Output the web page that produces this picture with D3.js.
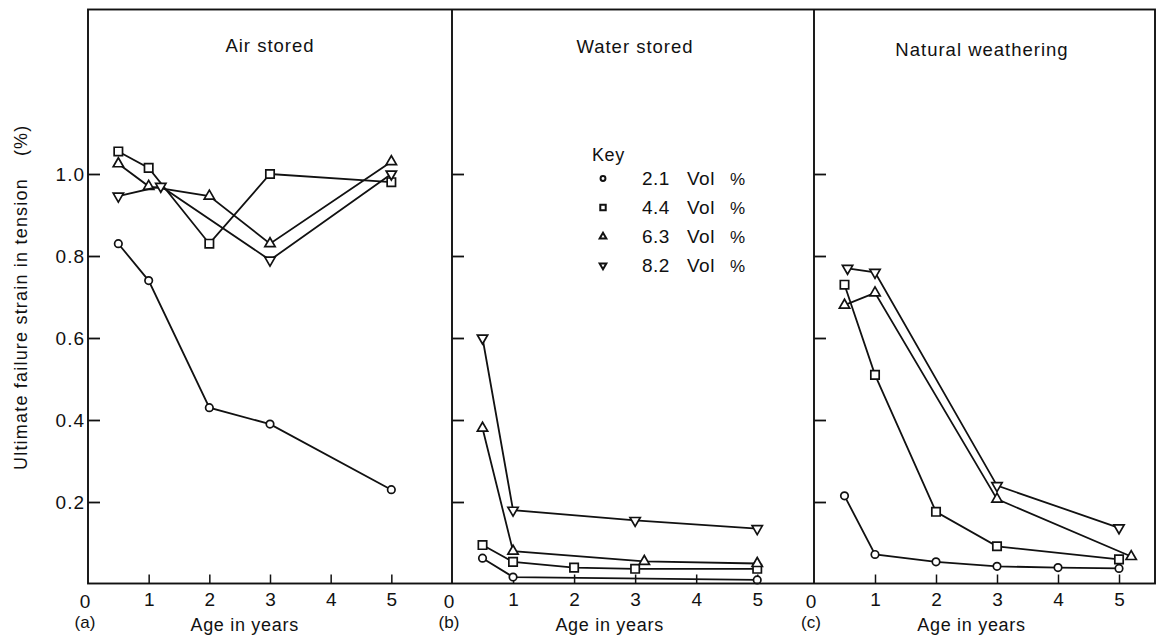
<!DOCTYPE html>
<html><head><meta charset="utf-8">
<script src="https://cdn.jsdelivr.net/npm/d3@7"></script>
<style>
body{margin:0;background:#fff}
svg{display:block}
text{font-family:"Liberation Sans",Arial,Helvetica,sans-serif;fill:#111}
</style>
</head><body>
<svg id="chart" width="1157" height="638"></svg>
<script>
// ---------- data ----------
const panelTitles = ["Air stored", "Water stored", "Natural weathering"];
const panelLetters = ["(a)", "(b)", "(c)"];
const seriesNames = ["2.1", "4.4", "6.3", "8.2"];
const seriesSymbols = ["circle", "square", "triangleUp", "triangleDown"];
const yTicks = [0.2, 0.4, 0.6, 0.8, 1.0];
const yTickLabels = ["0.2", "0.4", "0.6", "0.8", "1.0"];
const xTicks = [1, 2, 3, 4, 5];
const xTickLabels = ["1", "2", "3", "4", "5"];

// Air stored (a)
const airAges   = [[0.5, 1, 2, 3, 5], [0.5, 1, 2, 3, 5], [0.5, 1, 2, 3, 5], [0.5, 1.2, 3, 5]];
const airValues = [[0.83, 0.74, 0.43, 0.39, 0.23],
                   [1.055, 1.015, 0.83, 1.0, 0.98],
                   [1.025, 0.97, 0.946, 0.83, 1.03],
                   [0.946, 0.97, 0.79, 1.0]];
// Water stored (b)
const waterAges   = [[0.5, 1, 5], [0.5, 1, 2, 3, 5], [0.5, 1, 3.15, 5], [0.5, 1, 3, 5]];
const waterValues = [[0.063, 0.017, 0.01],
                     [0.095, 0.054, 0.04, 0.037, 0.037],
                     [0.38, 0.08, 0.055, 0.05],
                     [0.6, 0.18, 0.155, 0.135]];
// Natural weathering (c)
const naturalAges   = [[0.5, 1, 2, 3, 4, 5], [0.5, 1, 2, 3, 5], [0.5, 1, 3, 5.2], [0.55, 1, 3, 5]];
const naturalValues = [[0.215, 0.072, 0.054, 0.043, 0.04, 0.038],
                       [0.73, 0.51, 0.176, 0.092, 0.06],
                       [0.68, 0.71, 0.207, 0.067],
                       [0.77, 0.76, 0.24, 0.137]];

const panelAges = [airAges, waterAges, naturalAges];
const panelValues = [airValues, waterValues, naturalValues];

// ---------- layout ----------
const svg = d3.select("#chart");
const frameTop = 9.5, frameBottom = 583.5;
const panelX = [[88, 452], [452, 814], [814, 1155]];
const panelXMax = [6, 5.93, 5.59];

const y = d3.scaleLinear().domain([0, 1.4]).range([584, 10]);

function symbolPath(kind, big) {
  const s = big ? 1 : 0.65;
  if (kind === "circle") return d3.symbol(d3.symbolCircle, 44 * s * s)();
  if (kind === "square") return d3.symbol(d3.symbolSquare, 70 * s * s)();
  return d3.symbol(d3.symbolTriangle, 46 * s * s)();
}

panelTitles.forEach((title, p) => {
  const x = d3.scaleLinear().domain([0, panelXMax[p]]).range(panelX[p]);
  const g = svg.append("g");

  // y axis ticks (inward)
  const yAxis = d3.axisLeft(y).tickValues(yTicks).tickSizeInner(-12).tickSizeOuter(0).tickPadding(3)
    .tickFormat((d, i) => p === 0 ? yTickLabels[i] : "");
  const ya = g.append("g").attr("transform", `translate(${panelX[p][0]},0)`).call(yAxis);
  ya.select(".domain").remove();
  ya.selectAll("line").attr("stroke", "#111").attr("stroke-width", 1.8);
  ya.selectAll("text").style("font-family", '"Liberation Sans",Arial,sans-serif')
    .style("font-size", "19px").style("letter-spacing", "1px").attr("fill", "#111");

  // x axis ticks (inward)
  const xAxis = d3.axisBottom(x).tickValues(xTicks).tickSizeInner(-9).tickSizeOuter(0).tickPadding(10)
    .tickFormat((d, i) => xTickLabels[i]);
  const xa = g.append("g").attr("transform", `translate(0,${frameBottom})`).call(xAxis);
  xa.select(".domain").remove();
  xa.selectAll("line").attr("stroke", "#111").attr("stroke-width", 1.5);
  xa.selectAll("text").style("font-family", '"Liberation Sans",Arial,sans-serif')
    .style("font-size", "19px").attr("fill", "#111").attr("dy", "0.68em");

  // origin "0" and panel letter
  g.append("text").attr("x", x(0) - 3).attr("y", 608).attr("text-anchor", "middle")
    .style("font-size", "19px").text("0");
  g.append("text").attr("x", x(0) - 3).attr("y", 628).attr("text-anchor", "middle")
    .style("font-size", "17px").text(panelLetters[p]);
  g.append("text").attr("x", (x(0) + x(5)) / 2 + 5).attr("y", 631).attr("text-anchor", "middle")
    .style("font-size", "18px").style("letter-spacing", "0.7px").text("Age in years");

  // title
  const titleX = [270, 635, 982][p];
  const titleY = [52, 53, 56][p];
  g.append("text").attr("x", titleX).attr("y", titleY).attr("text-anchor", "middle")
    .style("font-size", "18.5px").style("letter-spacing", "1px").text(title);

  // series
  const line = d3.line().x(d => x(d[0])).y(d => y(d[1]));
  seriesNames.forEach((name, s) => {
    const pts = panelAges[p][s].map((a, i) => [a, panelValues[p][s][i]]);
    g.append("path").attr("d", line(pts)).attr("fill", "none")
      .attr("stroke", "#111").attr("stroke-width", 1.8);
    const kind = seriesSymbols[s];
    g.selectAll(null).data(pts).enter().append("path")
      .attr("d", symbolPath(kind, true))
      .attr("transform", d => `translate(${x(d[0])},${y(d[1])})` + (kind === "triangleDown" ? " rotate(180)" : ""))
      .attr("fill", "#fff").attr("stroke", "#111").attr("stroke-width", 1.7);
  });
});

// frame
const frame = svg.append("g").attr("fill", "none").attr("stroke", "#111").attr("stroke-width", 1.9);
frame.append("rect").attr("x", 88).attr("y", frameTop).attr("width", 1155 - 88).attr("height", frameBottom - frameTop);
frame.append("line").attr("x1", 452).attr("x2", 452).attr("y1", frameTop).attr("y2", frameBottom);
frame.append("line").attr("x1", 814).attr("x2", 814).attr("y1", frameTop).attr("y2", frameBottom);

// y label
svg.append("text").attr("transform", "translate(27,470) rotate(-90)")
  .style("font-size", "18px").style("letter-spacing", "1.2px")
  .text("Ultimate failure strain in tension")
  .append("tspan").attr("dx", 22).text("(%)");

// key
const key = svg.append("g");
key.append("text").attr("x", 592).attr("y", 161).style("font-size", "18px").style("letter-spacing", "0.6px").text("Key");
const keyRowY = [185, 214, 243, 272];
seriesNames.forEach((name, s) => {
  const kind = seriesSymbols[s];
  const cy = keyRowY[s] - 6.5;
  key.append("path").attr("d", symbolPath(kind, false))
    .attr("transform", `translate(603,${cy})` + (kind === "triangleDown" ? " rotate(180)" : ""))
    .attr("fill", "#fff").attr("stroke", "#111").attr("stroke-width", 2);
  key.append("text").attr("x", 642).attr("y", keyRowY[s]).style("font-size", "19px").style("letter-spacing", "0.5px").text(name);
  key.append("text").attr("x", 687).attr("y", keyRowY[s]).style("font-size", "19px").style("letter-spacing", "0.5px").text("Vol");
  key.append("text").attr("x", 730).attr("y", keyRowY[s]).style("font-size", "17px").text("%");
});
</script>
</body></html>
